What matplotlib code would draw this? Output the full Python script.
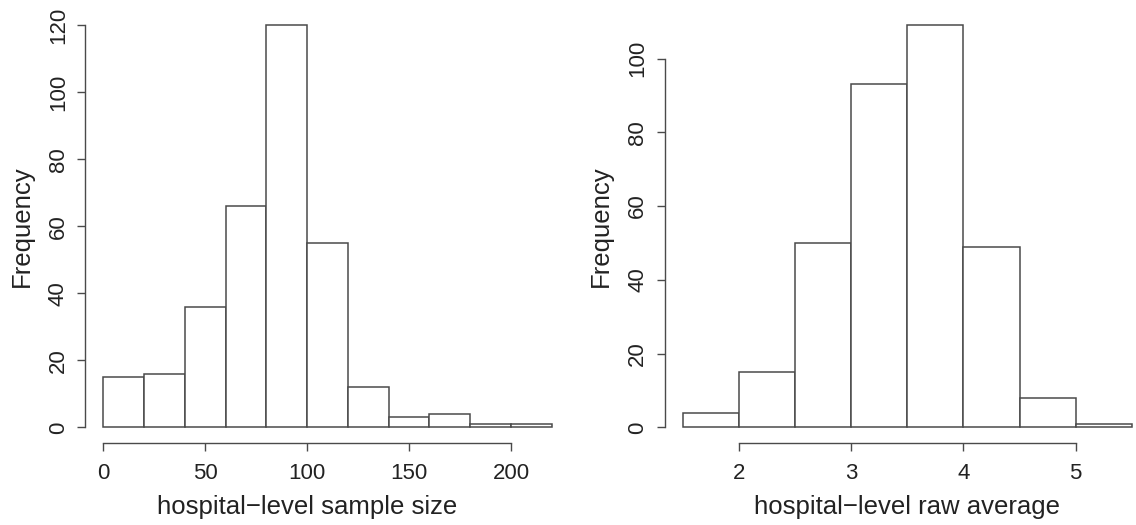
import matplotlib
matplotlib.use('Agg')
import matplotlib.pyplot as plt

plt.rcParams['font.family'] = ['Liberation Sans', 'DejaVu Sans']

# Histogram of sample sizes per hospital (bin edges 0..220 by 20)
size_edges = [0, 20, 40, 60, 80, 100, 120, 140, 160, 180, 200, 220]
size_counts = [15, 16, 36, 66, 120, 55, 12, 3, 4, 1, 1]
size_xticks = [0, 50, 100, 150, 200]
size_yticks = [0, 20, 40, 60, 80, 100, 120]

# Histogram of raw averages per hospital (bin edges 1.5..5.5 by 0.5)
avg_edges = [1.5, 2.0, 2.5, 3.0, 3.5, 4.0, 4.5, 5.0, 5.5]
avg_counts = [4, 15, 50, 93, 109, 49, 8, 1]
avg_xticks = [2, 3, 4, 5]
avg_yticks = [0, 20, 40, 60, 80, 100]

line_col = '#4a4a4a'
text_col = '#222222'
tick_fs = 16
label_fs = 18.5


def r_hist(ax, edges, counts, xticks, yticks, xlabel, xlab_pos=0.5):
    widths = [b - a for a, b in zip(edges[:-1], edges[1:])]
    ax.bar(edges[:-1], counts, width=widths, align='edge',
           facecolor='white', edgecolor=line_col, linewidth=1.1)
    # R-style 4% padding around the data range
    xr = edges[-1] - edges[0]
    ax.set_xlim(edges[0] - 0.04 * xr, edges[-1] + 0.04 * xr)
    yr = max(counts)
    ax.set_ylim(-0.04 * yr, yr * 1.04)
    for side in ['top', 'right']:
        ax.spines[side].set_visible(False)
    for side in ['left', 'bottom']:
        ax.spines[side].set_color(line_col)
        ax.spines[side].set_linewidth(1.0)
    ax.spines['bottom'].set_bounds(xticks[0], xticks[-1])
    ax.spines['left'].set_bounds(yticks[0], yticks[-1])
    ax.set_xticks(xticks)
    ax.set_yticks(yticks)
    ax.tick_params(axis='both', length=6, width=1.0, color=line_col,
                   labelsize=tick_fs, labelcolor=text_col)
    ax.tick_params(axis='x', pad=8)
    ax.tick_params(axis='y', pad=6)
    for lab in ax.get_yticklabels():
        lab.set_rotation(90)
        lab.set_va('center')
    ax.set_xlabel(xlabel, fontsize=label_fs, color=text_col)
    ax.xaxis.set_label_coords(xlab_pos, -0.119)
    ax.set_ylabel('Frequency', fontsize=label_fs, color=text_col, labelpad=10)


fig = plt.figure(figsize=(11.36, 5.25), dpi=100)
ax1 = fig.add_axes([0.0752, 0.1554, 0.4263, 0.827])
ax2 = fig.add_axes([0.5853, 0.1554, 0.4268, 0.827])

r_hist(ax1, size_edges, size_counts, size_xticks, size_yticks,
       'hospital\u2212level sample size', xlab_pos=0.457)
r_hist(ax2, avg_edges, avg_counts, avg_xticks, avg_yticks,
       'hospital\u2212level raw average')

fig.savefig('out.png', dpi=100, facecolor='white')
